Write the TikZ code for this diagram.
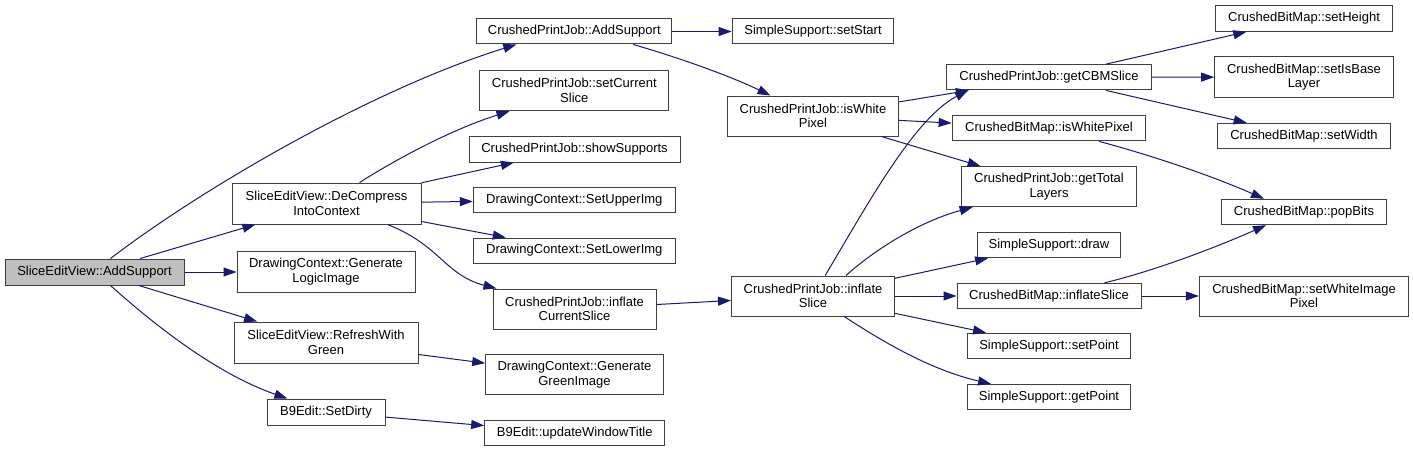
\documentclass[tikz,border=0pt]{standalone}
\usepackage{fontspec}
\setmainfont{Liberation Sans}
\usetikzlibrary{arrows.meta}
\definecolor{edgec}{HTML}{191970}
\definecolor{boxc}{HTML}{404040}
\definecolor{rootfill}{HTML}{BFBFBF}
\begin{document}
\begin{tikzpicture}[x=1pt,y=-1pt,
  box/.style={draw=boxc, line width=1pt, fill=white, inner sep=0pt, align=center,
    font=\fontsize{13}{14.7}\selectfont, text=black},
  root/.style={box, fill=rootfill},
  edge/.style={draw=edgec, line width=1pt, -{Triangle[length=13pt,width=9pt]}}
]
\fill[white] (0,0) rectangle (1413,452);
\useasboundingbox (0,0) rectangle (1413,452);

% column 1
\node[root, minimum width=179pt, minimum height=26pt] (as) at (94.5,272) {SliceEditView::AddSupport};
% column 2
\node[box, minimum width=189pt, minimum height=41pt] (dc) at (326.5,203.5) {SliceEditView::DeCompress\\IntoContext};
\node[box, minimum width=178pt, minimum height=41pt] (gli) at (326,271.5) {DrawingContext::Generate\\LogicImage};
\node[box, minimum width=184pt, minimum height=41pt] (rwg) at (326,342.5) {SliceEditView::RefreshWith\\Green};
\node[box, minimum width=118pt, minimum height=26pt] (sd) at (326,412) {B9Edit::SetDirty};
% column 3
\node[box, minimum width=195pt, minimum height=25pt] (cas) at (574.3,31.5) {CrushedPrintJob::AddSupport};
\node[box, minimum width=189pt, minimum height=40pt] (scs) at (574.3,90.7) {CrushedPrintJob::setCurrent\\Slice};
\node[box, minimum width=211pt, minimum height=25.5pt] (ss) at (574.5,149.3) {CrushedPrintJob::showSupports};
\node[box, minimum width=202pt, minimum height=25.7pt] (sui) at (574.3,200) {DrawingContext::SetUpperImg};
\node[box, minimum width=202pt, minimum height=25pt] (sli) at (574.3,250.5) {DrawingContext::SetLowerImg};
\node[box, minimum width=163pt, minimum height=40pt] (ics) at (574.5,309) {CrushedPrintJob::inflate\\CurrentSlice};
\node[box, minimum width=177.6pt, minimum height=40pt] (ggi) at (574.5,374.7) {DrawingContext::Generate\\GreenImage};
\node[box, minimum width=180pt, minimum height=25.3pt] (uwt) at (574.7,433.3) {B9Edit::updateWindowTitle};
% column 4
\node[box, minimum width=161.7pt, minimum height=25pt] (sst) at (813,31.5) {SimpleSupport::setStart};
\node[box, minimum width=171pt, minimum height=40pt] (iwp) at (813,116) {CrushedPrintJob::isWhite\\Pixel};
\node[box, minimum width=163pt, minimum height=40pt] (ifs) at (813,296) {CrushedPrintJob::inflate\\Slice};
% column 5
\node[box, minimum width=204.3pt, minimum height=25.3pt] (gcs) at (1049,77.3) {CrushedPrintJob::getCBMSlice};
\node[box, minimum width=193.7pt, minimum height=25.7pt] (biw) at (1049,128) {CrushedBitMap::isWhitePixel};
\node[box, minimum width=175.4pt, minimum height=40pt] (gtl) at (1049,186.7) {CrushedPrintJob::getTotal\\Layers};
\node[box, minimum width=143pt, minimum height=25.3pt] (drw) at (1049,245) {SimpleSupport::draw};
\node[box, minimum width=184pt, minimum height=25.4pt] (bif) at (1049,296) {CrushedBitMap::inflateSlice};
\node[box, minimum width=163pt, minimum height=25.7pt] (spt) at (1049,346) {SimpleSupport::setPoint};
\node[box, minimum width=163pt, minimum height=25.3pt] (gpt) at (1049,397) {SimpleSupport::getPoint};
% column 6
\node[box, minimum width=176.6pt, minimum height=25.6pt] (sh) at (1304,18.5) {CrushedBitMap::setHeight};
\node[box, minimum width=178.6pt, minimum height=40pt] (sib) at (1304,77) {CrushedBitMap::setIsBase\\Layer};
\node[box, minimum width=172.3pt, minimum height=25.4pt] (sw) at (1304,136) {CrushedBitMap::setWidth};
\node[box, minimum width=164.6pt, minimum height=25.4pt] (pb) at (1304,212) {CrushedBitMap::popBits};
\node[box, minimum width=209.4pt, minimum height=40pt] (swi) at (1304,296) {CrushedBitMap::setWhiteImage\\Pixel};

% edges from root
\draw[edge] ([xshift=16pt]as.north) .. controls (200,190) and (370,90) .. ([xshift=-58pt]cas.south);
\draw[edge] (as) -- (dc);
\draw[edge] (as.east) -- (gli.west |- as.east);
\draw[edge] (as) -- (rwg);
\draw[edge] ([xshift=16pt]as.south) .. controls (160,330) and (220,375) .. (sd);
% column 2 edges
\draw[edge] (dc) .. controls (395,160) and (450,130) .. (scs);
\draw[edge] (dc) -- (ss);
\draw[edge] (dc) -- (sui);
\draw[edge] (dc) -- (sli);
\draw[edge] ([xshift=61pt]dc.south) .. controls (440,245) and (445,275) .. (ics);
\draw[edge] (rwg) -- (ggi);
\draw[edge] (sd) -- (uwt);
% column 3 edges
\draw[edge] (cas) -- (sst);
\draw[edge] ([xshift=59pt]cas.south) .. controls (680,58) and (730,76) .. (iwp);
\draw[edge] (ics) -- (ifs);
% column 4 edges
\draw[edge] (iwp) -- (gcs);
\draw[edge] (iwp) -- (biw);
\draw[edge] (iwp) -- (gtl);
\draw[edge] (ifs) .. controls (870,200) and (915,118) .. ([xshift=-81pt]gcs.south);
\draw[edge] ([xshift=33pt]ifs.north) .. controls (880,245) and (925,220) .. (gtl);
\draw[edge] (ifs) -- (drw);
\draw[edge] (ifs) -- (bif);
\draw[edge] (ifs) -- (spt);
\draw[edge] (ifs) .. controls (880,340) and (930,370) .. (gpt);
% column 5 edges
\draw[edge] (gcs) -- (sh);
\draw[edge] (gcs) -- (sib);
\draw[edge] (gcs) -- (sw);
\draw[edge] (biw) .. controls (1150,155) and (1210,175) .. ([xshift=-40pt]pb.north);
\draw[edge] (bif) .. controls (1150,272) and (1210,250) .. ([xshift=-38pt]pb.south);
\draw[edge] (bif) -- (swi);
\end{tikzpicture}
\end{document}
